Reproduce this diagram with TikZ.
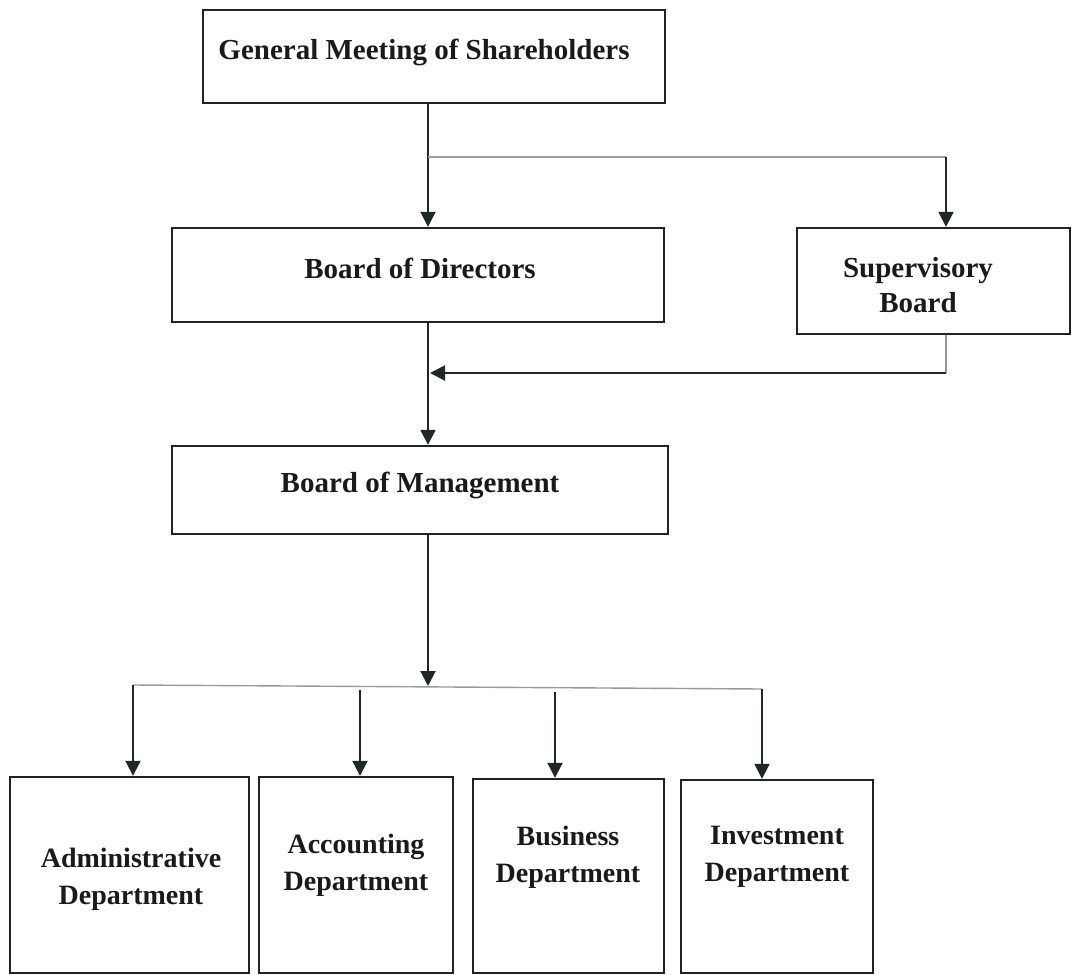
\documentclass[tikz,border=0pt]{standalone}
\usepackage{fontspec}
\setmainfont{Liberation Serif}
\usetikzlibrary{arrows.meta}
\definecolor{boxc}{HTML}{222222}
\definecolor{txtc}{HTML}{1A1A1A}
\definecolor{linec}{HTML}{1E2826}
\definecolor{greyc}{HTML}{9A9A9A}
\begin{document}
\begin{tikzpicture}[x=1pt,y=-1pt,
  box/.style={draw=boxc, line width=2.4pt, rectangle, inner sep=0pt},
  txt/.style={font=\bfseries\fontsize{28}{37}\selectfont, align=center, text=txtc, inner sep=0pt},
  ttxt/.style={font=\bfseries\fontsize{29}{35}\selectfont, align=center, text=txtc, inner sep=0pt},
  conn/.style={draw=linec, line width=2pt},
  arr/.style={conn, -{Triangle[length=15pt,width=15pt]}},
  thinline/.style={draw=greyc, line width=1.4pt}]
\useasboundingbox (0,0) rectangle (1072,975);

% boxes
\node[box, minimum width=462pt, minimum height=93pt] (gms) at (434,56.5) {};
\node[box, minimum width=492pt, minimum height=94pt] (bod) at (418,275) {};
\node[box, minimum width=273pt, minimum height=106pt] (sup) at (933.5,281) {};
\node[box, minimum width=496pt, minimum height=88pt] (bom) at (420,490) {};
\node[box, minimum width=239pt, minimum height=196pt] (admin) at (129.5,875) {};
\node[box, minimum width=194pt, minimum height=196pt] (acc) at (356,875) {};
\node[box, minimum width=191pt, minimum height=194pt] (bus) at (568.5,876) {};
\node[box, minimum width=192pt, minimum height=193pt] (inv) at (777,876.5) {};

% texts
\node[ttxt] (gmst) at (424,52) {General Meeting of Shareholders};
\node[ttxt] (bodt) at (420,268) {Board of Directors};
\node[ttxt] (supt) at (918,285) {Supervisory\\Board};
\node[ttxt] (bomt) at (420,485) {Board of Management};
\node[txt] (admint) at (131,879) {Administrative\\Department};
\node[txt] (acct) at (356,865) {Accounting\\Department};
\node[txt] (bust) at (568,857) {Business\\Department};
\node[txt] (invt) at (777,857) {Investment\\Department};

% junction points
\coordinate (s1) at (428,157);
\coordinate (s2) at (946,157);
\coordinate (m1) at (430,373);
\coordinate (m2) at (946,373);
\coordinate (b0) at (428,686);
\coordinate (bl) at (133,685);
\coordinate (br) at (762,689);
\coordinate (d2) at (360,690);
\coordinate (d3) at (555,692);

% connectors
\draw[arr] (gms.south -| s1) -- (bod.north -| s1);
\draw[thinline] (s1) -- (s2);
\draw[arr] (s2) -- (sup.north -| s2);
\draw[arr] (bod.south -| s1) -- (bom.north -| s1);
\draw[thinline] (sup.south -| m2) -- (m2);
\draw[arr] (m2) -- (m1);
\draw[arr] (bom.south -| s1) -- (b0);
\draw[thinline] (bl) -- (br);
\draw[arr] (bl) -- (admin.north -| bl);
\draw[arr] (d2) -- (acc.north -| d2);
\draw[arr] (d3) -- (bus.north -| d3);
\draw[arr] (br) -- (inv.north -| br);
\end{tikzpicture}
\end{document}
